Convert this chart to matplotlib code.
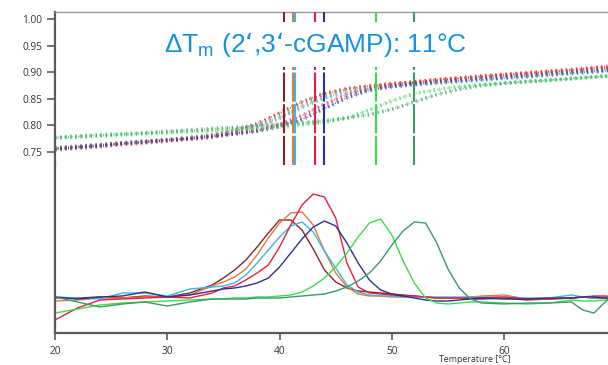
import matplotlib
matplotlib.use("Agg")
import matplotlib.pyplot as plt

# ---------------- data ----------------
series_names = ["brown", "orange", "cyan", "red", "navy", "lightgreen", "darkgreen"]
series_colors = ["#8B2323", "#E07B39", "#3DB5E6", "#E8203F", "#2E3192", "#3DDC4A", "#3A9A6A"]
tm_values = [40.4, 41.2, 41.4, 43.2, 44.0, 48.6, 52.0]

# melting curves (ratio), top panel
temp_top = [20, 22, 24, 26, 28, 30, 32, 34, 36, 38, 40, 42, 44, 46, 48, 50, 52, 54, 56, 58, 60, 62, 64, 66, 68, 70]
ratio_brown = [.757, .760, .763, .767, .770, .773, .777, .782, .790, .803, .823, .844, .860, .869, .874, .878, .881, .885, .888, .891, .894, .897, .900, .903, .906, .909]
ratio_orange = [.758, .761, .764, .767, .770, .773, .777, .781, .788, .799, .816, .837, .855, .867, .874, .878, .882, .885, .888, .891, .894, .897, .900, .903, .906, .909]
ratio_cyan = [.757, .760, .763, .766, .770, .773, .776, .780, .787, .797, .813, .834, .851, .862, .869, .873, .876, .879, .882, .885, .888, .891, .894, .897, .900, .903]
ratio_red = [.754, .757, .760, .764, .767, .771, .774, .778, .785, .791, .802, .818, .840, .858, .870, .877, .881, .886, .889, .893, .896, .899, .902, .905, .909, .912]
ratio_navy = [.756, .759, .762, .766, .769, .772, .775, .779, .784, .789, .798, .811, .832, .852, .866, .873, .878, .881, .884, .887, .890, .893, .896, .899, .902, .905]
ratio_lightgreen = [.776, .778, .780, .782, .784, .786, .788, .790, .792, .794, .797, .801, .805, .814, .829, .846, .860, .867, .873, .877, .880, .883, .885, .888, .891, .894]
ratio_darkgreen = [.777, .780, .782, .784, .786, .789, .791, .794, .796, .799, .802, .805, .809, .814, .820, .830, .844, .858, .868, .875, .879, .882, .885, .888, .891, .894]

# first derivative curves, bottom panel (arbitrary units)
temp_d = [20, 22, 24, 26, 28, 30, 32, 34,
          35, 36, 37, 38, 39, 40, 41, 42, 43, 44, 45, 46, 47, 48, 49, 50, 51, 52, 53, 54, 55, 56, 57, 58,
          60, 62, 64, 66, 67, 68, 69, 70]
deriv_brown = [35, 35, 36, 35, 37, 36, 40, 48,
               55, 63, 73, 86, 100, 113, 113, 103, 84, 63, 51, 45, 42, 41, 40, 39, 38, 37, 36, 35, 35, 35, 34, 34,
               35, 33, 34, 35, 36, 35, 35, 35]
deriv_orange = [32, 33, 35, 35, 36, 36, 38, 47,
                51, 56, 64, 78, 95, 110, 120, 121, 108, 82, 60, 46, 39, 37, 37, 36, 36, 36, 36, 35, 35, 35, 36, 37,
                38, 34, 34, 35, 36, 36, 35, 34]
deriv_cyan = [36, 35, 34, 40, 40, 37, 44, 46,
              47, 50, 58, 70, 83, 96, 107, 111, 101, 82, 65, 48, 41, 38, 37, 37, 36, 36, 36, 36, 36, 36, 36, 36,
              36, 35, 35, 38, 36, 35, 36, 35]
deriv_red = [13, 25, 33, 34, 35, 36, 35, 40,
             45, 47, 53, 60, 68, 86, 108, 128, 139, 136, 115, 70, 46, 40, 39, 38, 37, 37, 36, 35, 35, 35, 35, 35,
             36, 34, 34, 35, 36, 37, 37, 36]
deriv_navy = [36, 34, 36, 37, 41, 36, 38, 42,
              44, 45, 47, 50, 55, 66, 80, 94, 106, 112, 107, 90, 70, 53, 43, 39, 37, 35, 33, 32, 32, 33, 34, 35,
              34, 34, 35, 35, 36, 36, 35, 35]
deriv_lightgreen = [20, 24, 28, 30, 31, 32, 33, 34,
                    34, 35, 35, 36, 36, 37, 38, 41, 47, 55, 66, 80, 96, 110, 114, 98, 72, 50, 35, 30, 29, 30, 31, 31,
                    30, 29, 30, 33, 32, 32, 33, 33]
deriv_darkgreen = [36, 31, 26, 29, 31, 27, 31, 34,
                   34, 34, 34, 35, 35, 35, 36, 37, 38, 39, 42, 46, 52, 60, 72, 88, 102, 111, 110, 90, 64, 45, 34, 30,
                   29, 30, 30, 31, 23, 20, 31, 42]

ratios = [ratio_brown, ratio_orange, ratio_cyan, ratio_red, ratio_navy, ratio_lightgreen, ratio_darkgreen]
derivs = [deriv_brown, deriv_orange, deriv_cyan, deriv_red, deriv_navy, deriv_lightgreen, deriv_darkgreen]

y_ticks = [0.75, 0.80, 0.85, 0.90, 0.95, 1.00]
x_ticks = [20, 30, 40, 50, 60]
title_text = "ΔT$_\\mathregular{m}$ (2‘,3‘-cGAMP): 11°C"
xlabel_text = "Temperature [°C]"

# ---------------- figure ----------------
W, H = 608, 365
fig = plt.figure(figsize=(W / 100, H / 100), dpi=100)
tick_font = "Open Sans"
spine_col = "#5a5a5a"

left = 55 / W
ax_top = fig.add_axes([left, (H - 165) / H, 1 - left, 153 / H])
ax_bot = fig.add_axes([left, (H - 333) / H, 1 - left, 168 / H])

xlim = (20, 69.25)

# top panel
for r, c in zip(ratios, series_colors):
    ax_top.plot(temp_top, r, color=c, lw=2.8, ls=(0, (0.4, 0.9)), alpha=0.6, zorder=2)
    ax_top.plot(temp_top, r, color=c, lw=1.2, ls=(0.5, (0.5, 1.6)), alpha=0.8, zorder=2)
for tm, c in zip(tm_values, series_colors):
    ax_top.axvline(tm, color=c, lw=1.5, dashes=(14, 1.2), zorder=3)
ax_top.set_xlim(*xlim)
ax_top.set_ylim(0.7255, 1.0132)
ax_top.set_yticks(y_ticks)
ax_top.set_yticklabels([f"{v:.2f}" for v in y_ticks], fontsize=7.3, family=tick_font, color="#333333")
ax_top.set_xticks([])
ax_top.tick_params(axis="y", length=6, width=1.2, color=spine_col, pad=3)
for s in ["right", "bottom"]:
    ax_top.spines[s].set_visible(False)
ax_top.spines["left"].set_color(spine_col)
ax_top.spines["left"].set_linewidth(1.6)
ax_top.spines["top"].set_color("#999999")
ax_top.spines["top"].set_linewidth(1.0)
ax_top.patch.set_alpha(0)

ax_top.text(0.198, 0.79, title_text, transform=ax_top.transAxes, fontsize=19,
            family="Liberation Sans", color="#1592DC", va="center", ha="left", zorder=5,
            bbox=dict(boxstyle="square,pad=0.3", fc="white", ec="none"))

# bottom panel
for d, c in zip(derivs, series_colors):
    ax_bot.plot(temp_d, d, color=c, lw=1.0, zorder=2)
ax_bot.set_xlim(*xlim)
ax_bot.set_ylim(0, 168)
ax_bot.set_yticks([])
ax_bot.set_xticks(x_ticks)
ax_bot.set_xticklabels([str(t) for t in x_ticks], fontsize=7.3, family=tick_font, color="#333333")
ax_bot.tick_params(axis="x", length=5, width=1.2, color=spine_col, pad=4)
for s in ["right", "top"]:
    ax_bot.spines[s].set_visible(False)
for s in ["left", "bottom"]:
    ax_bot.spines[s].set_color(spine_col)
    ax_bot.spines[s].set_linewidth(1.6)
ax_bot.patch.set_alpha(0)

fig.text(475 / W, 1 - 360 / H, xlabel_text, fontsize=6.3, family=tick_font, color="#333333",
         ha="center", va="center")

fig.savefig("out.png", dpi=100)
